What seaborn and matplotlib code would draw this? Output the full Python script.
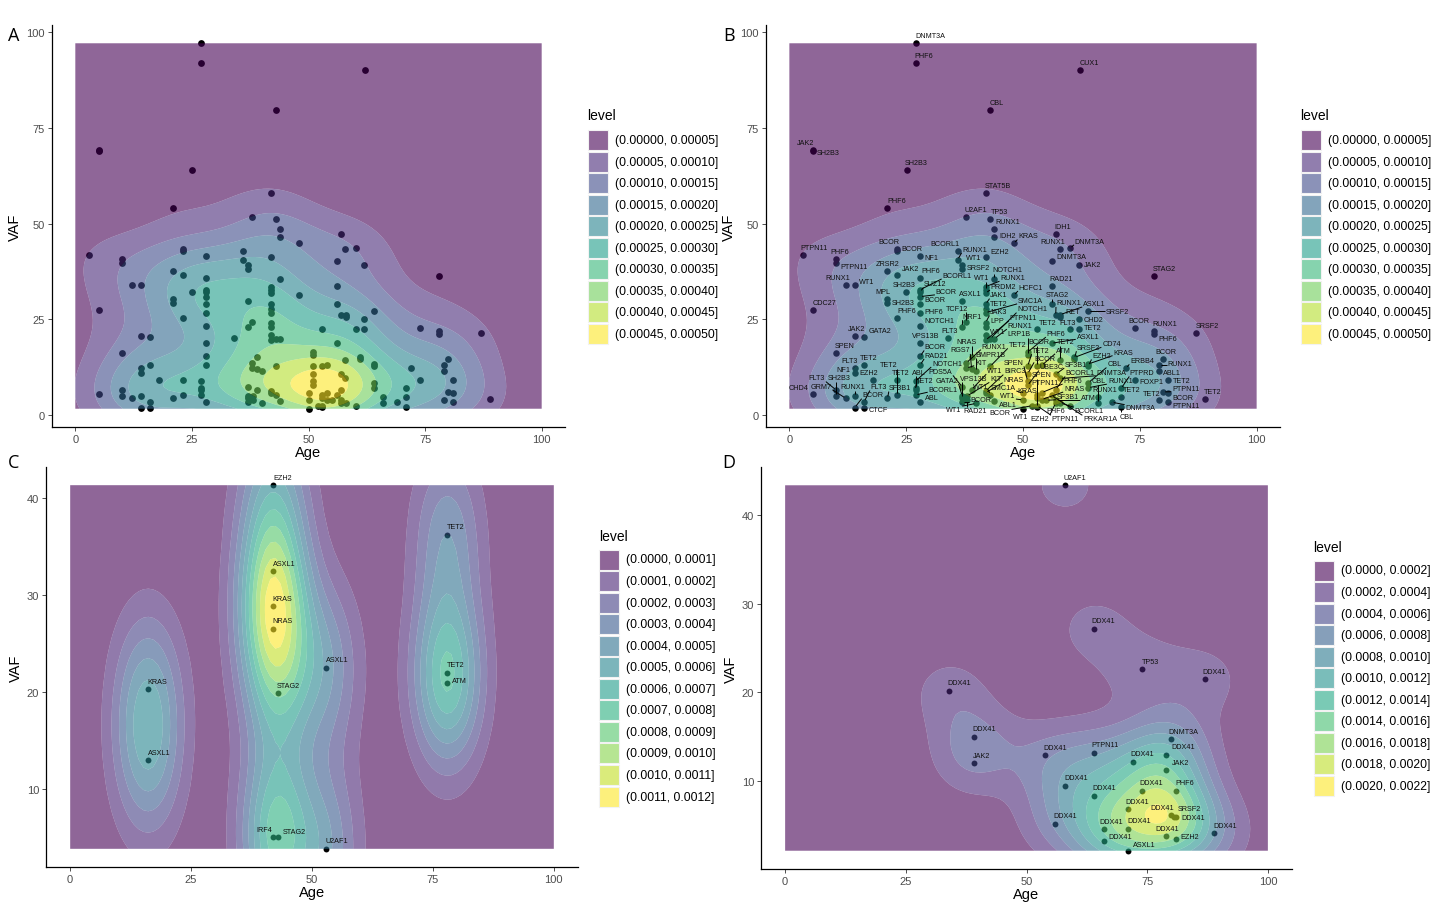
import numpy as np
import pandas as pd
import matplotlib
matplotlib.use("Agg")
import matplotlib.pyplot as plt
from matplotlib.patches import Rectangle
import seaborn as sns

# ------------------------------------------------------------------ data
ab_age = [27.0, 27.0, 62.1, 43.0, 5.0, 5.0, 25.1, 21.0, 42.0, 37.9,
          43.0, 43.9, 43.9, 48.0, 57.0, 57.9, 60.1, 62.0, 56.1, 78.0,
          3.0, 10.0, 10.0, 23.1, 23.1, 21.0, 23.1, 28.0, 36.0, 36.0,
          37.0, 37.0, 42.0, 28.0, 43.9, 12.1, 14.0, 28.0, 28.0, 28.0,
          28.0, 42.0, 42.0, 42.0, 48.0, 25.0, 21.0, 21.0, 56.1, 37.0,
          56.1, 42.0, 42.0, 42.0, 5.0, 28.0, 64.0, 57.0, 58.0, 58.0,
          37.9, 37.0, 42.0, 42.0, 28.0, 23.1, 62.0, 53.0, 60.1, 62.0,
          74.0, 78.0, 78.0, 87.0, 14.0, 16.0, 34.0, 42.0, 42.0, 43.0,
          43.9, 28.0, 56.1, 10.0, 51.0, 51.0, 28.0, 39.0, 61.0, 61.0,
          80.0, 57.9, 16.0, 28.0, 37.9, 64.0, 64.0, 79.0, 43.0, 51.0,
          53.0, 54.0, 14.0, 14.0, 37.9, 39.0, 40.0, 72.0, 79.0, 51.0,
          57.0, 57.9, 18.0, 23.1, 27.0, 74.0, 81.0, 64.0, 64.0, 51.0,
          51.0, 37.0, 27.0, 27.0, 39.0, 57.0, 71.0, 10.0, 5.0, 42.0,
          42.0, 43.0, 80.0, 81.0, 23.1, 27.0, 50.0, 54.0, 53.0, 56.1,
          37.0, 37.0, 37.0, 38.0, 38.0, 10.0, 14.0, 12.1, 21.0, 66.0,
          71.0, 50.0, 54.0, 55.0, 57.0, 53.0, 43.9, 28.0, 40.0, 57.0,
          58.0, 16.0, 66.0, 69.0, 79.0, 81.0, 89.0, 52.0, 53.0, 60.1,
          71.0, 53.0, 14.0, 16.0, 50.0]
ab_vaf = [97.1, 92.0, 90.1, 79.7, 69.2, 68.9, 64.0, 54.1, 57.9, 51.7,
          51.1, 48.5, 46.6, 44.8, 47.3, 43.4, 43.5, 39.1, 40.3, 36.3,
          41.9, 40.8, 39.8, 43.3, 42.9, 37.5, 36.6, 41.4, 42.8, 40.5,
          39.2, 38.0, 41.3, 35.7, 35.5, 34.0, 34.0, 32.7, 32.1, 30.9,
          29.0, 33.5, 32.6, 31.8, 31.2, 32.2, 30.2, 29.3, 33.7, 29.8,
          28.9, 28.9, 27.6, 26.7, 27.4, 26.5, 27.1, 26.0, 26.2, 25.7,
          24.3, 23.0, 24.1, 23.0, 23.3, 25.2, 25.1, 22.5, 22.5, 22.5,
          22.6, 22.0, 21.0, 21.5, 20.7, 20.4, 20.2, 20.9, 19.5, 19.9,
          19.9, 18.7, 18.7, 16.1, 16.4, 15.6, 15.3, 15.0, 15.0, 14.7,
          14.7, 14.4, 13.1, 13.0, 13.6, 13.3, 12.8, 13.0, 12.7, 12.7,
          12.7, 12.9, 12.2, 11.0, 12.2, 11.9, 11.4, 12.2, 11.4, 10.7,
          10.6, 9.5, 9.2, 9.0, 8.8, 9.0, 9.0, 8.4, 7.1, 8.8,
          7.7, 7.3, 7.0, 6.5, 6.6, 6.6, 6.9, 6.5, 5.5, 6.2,
          5.8, 5.2, 6.0, 5.8, 5.3, 5.2, 5.6, 5.8, 5.1, 5.1,
          4.9, 4.3, 3.4, 4.0, 4.9, 4.9, 4.8, 4.3, 4.3, 4.6,
          4.6, 3.9, 4.0, 3.8, 3.8, 4.5, 3.5, 3.4, 3.0, 3.1,
          3.1, 3.4, 3.1, 3.3, 3.8, 3.4, 4.2, 2.4, 2.4, 2.3,
          2.1, 2.1, 1.9, 1.7, 1.6]
ab_gene = ["DNMT3A", "PHF6", "CUX1", "CBL", "JAK2", "SH2B3", "SH2B3", "PHF6", "STAT5B", "U2AF1",
           "TP53", "RUNX1", "IDH2", "KRAS", "IDH1", "RUNX1", "DNMT3A", "JAK2", "DNMT3A", "STAG2",
           "PTPN11", "PHF6", "PTPN11", "BCOR", "BCOR", "ZRSR2", "JAK2", "NF1", "BCORL1", "RUNX1",
           "WT1", "SRSF2", "EZH2", "PHF6", "NOTCH1", "RUNX1", "WT1", "BCORL1", "SUZ12", "BCOR",
           "BCOR", "RUNX1", "WT1", "PRDM2", "HCFC1", "SH2B3", "MPL", "SH2B3", "RAD21", "ASXL1",
           "STAG2", "JAK1", "TET2", "SMC1A", "CDC27", "PHF6", "SRSF2", "RUNX1", "ASXL1", "RET",
           "TCF12", "NRF1", "JAK3", "LPP", "NOTCH1", "PHF6", "CHD2", "TET2", "FLT3", "TET2",
           "BCOR", "RUNX1", "PHF6", "SRSF2", "JAK2", "GATA2", "FLT3", "WT1", "PTPN11", "NOTCH1",
           "RUNX1", "VPS13B", "ASXL1", "SPEN", "PHF6", "LRP1B", "BCOR", "NRAS", "CD74", "SRSF2",
           "BCOR", "TET2", "TET2", "RAD21", "RUNX1", "KRAS", "EZH2", "RUNX1", "TET2", "TET2",
           "BCOR", "ATM", "FLT3", "NF1", "KIT", "RGS7", "BMPR1B", "ERBB4", "ABL1", "BCOR",
           "SF3B1", "DNMT3A", "EZH2", "TET2", "NOTCH1", "FOXP1", "TET2", "CBL", "RUNX1", "SPEN",
           "UBE3C", "PDS5A", "ABL", "TET2", "WT1", "BCORL1", "PTPRD", "FLT3", "CHD4", "BIRC3",
           "NRAS", "WT1", "PTPN11", "BCOR", "TET2", "BCORL1", "SMC1A", "PHF6", "PTPN11", "PRKAR1A",
           "GATA2", "VPS13B", "BCOR", "RAD21", "KIT", "SH2B3", "RUNX1", "GRM7", "SF3B1", "CBL",
           "TET2", "WT1", "NRAS", "SF3B1", "ATM", "KRAS", "ABL1", "ABL", "WT1", "EZH2",
           "BCORL1", "FLT3", "RUNX1", "DNMT3A", "TET2", "PTPN11", "TET2", "BCOR", "PTPN11", "PHF6",
           "CBL", "SPEN", "BCOR", "CTCF", "WT1"]

c_age = [42.0, 78.0, 42.0, 42.0, 42.0, 52.9, 78.0, 78.0, 16.1, 43.0, 16.1, 42.0, 43.0, 52.9]
c_vaf = [41.27, 36.2, 32.4, 28.85, 26.5, 22.5, 22.0, 20.95, 20.3, 19.9, 13.0, 5.07, 5.07, 3.9]
c_gene = ["EZH2", "TET2", "ASXL1", "KRAS", "NRAS", "ASXL1", "TET2", "ATM", "KRAS", "STAG2",
          "ASXL1", "IRF4", "STAG2", "U2AF1"]

d_age = [58.0, 64.0, 73.9, 86.9, 34.0, 39.1, 80.0, 39.1, 53.9, 64.0,
         79.0, 72.0, 79.0, 58.0, 73.9, 80.9, 64.0, 71.0, 80.0, 80.5,
         81.0, 55.9, 66.0, 71.0, 79.0, 80.9, 88.9, 66.0, 71.0]
d_vaf = [43.36, 27.2, 22.6, 21.5, 20.2, 15.0, 14.75, 12.0, 12.9, 13.2,
         13.0, 12.2, 11.3, 9.5, 8.9, 8.9, 8.34, 6.83, 6.15, 6.0,
         5.9, 5.2, 4.6, 4.64, 3.8, 3.43, 4.15, 3.25, 2.15]
d_gene = ["U2AF1", "DDX41", "TP53", "DDX41", "DDX41", "DDX41", "DNMT3A", "JAK2", "DDX41", "PTPN11",
          "DDX41", "DDX41", "JAK2", "DDX41", "DDX41", "PHF6", "DDX41", "DDX41", "DDX41", "SRSF2",
          "DDX41", "DDX41", "DDX41", "DDX41", "DDX41", "EZH2", "DDX41", "DDX41", "ASXL1"]

ab_breaks = [0.0, 0.00005, 0.00010, 0.00015, 0.00020, 0.00025, 0.00030, 0.00035, 0.00040, 0.00045, 0.00050]
c_breaks = [0.0, 0.0001, 0.0002, 0.0003, 0.0004, 0.0005, 0.0006, 0.0007, 0.0008, 0.0009, 0.0010, 0.0011, 0.0012]
d_breaks = [0.0, 0.0002, 0.0004, 0.0006, 0.0008, 0.0010, 0.0012, 0.0014, 0.0016, 0.0018, 0.0020, 0.0022]

x_ticks = [0, 25, 50, 75, 100]
ab_y_ticks = [0, 25, 50, 75, 100]
cd_y_ticks = [10, 20, 30, 40]
panel_letters = ["A", "B", "C", "D"]

# ------------------------------------------------------------------ style
sns.set_theme(style="ticks")
plt.rcParams["font.family"] = ["Liberation Sans", "DejaVu Sans"]

W, H = 1440, 904
fig = plt.figure(figsize=(W / 100, H / 100), dpi=100)
FILL_ALPHA = 0.6


def px_axes(l, r, t, b):
    return fig.add_axes([l / W, 1 - b / H, (r - l) / W, (b - t) / H])


def bandwidth_nrd(v):
    v = np.asarray(v, float)
    q75, q25 = np.percentile(v, [75, 25])
    h = (q75 - q25) / 1.34
    return 4 * 1.06 * min(np.sqrt(np.var(v, ddof=1)), h) * len(v) ** (-0.2)


def kde2d(x, y, xlim, ylim, n=100):
    x = np.asarray(x, float)
    y = np.asarray(y, float)
    hx = bandwidth_nrd(x) / 4
    hy = bandwidth_nrd(y) / 4
    gx = np.linspace(xlim[0], xlim[1], n)
    gy = np.linspace(ylim[0], ylim[1], n)
    kx = np.exp(-0.5 * ((gx[:, None] - x[None, :]) / hx) ** 2) / (np.sqrt(2 * np.pi) * hx)
    ky = np.exp(-0.5 * ((gy[:, None] - y[None, :]) / hy) ** 2) / (np.sqrt(2 * np.pi) * hy)
    z = kx @ ky.T / len(x)
    return gx, gy, z


def style_axes(ax, yticks):
    sns.despine(ax=ax)
    for s in ("left", "bottom"):
        ax.spines[s].set_linewidth(0.9)
        ax.spines[s].set_color("black")
    ax.set_xticks(x_ticks)
    ax.set_yticks(yticks)
    ax.tick_params(axis="both", length=3, width=0.6, color="#333333",
                   labelsize=8, labelcolor="#4D4D4D", pad=2)
    ax.set_xlabel("Age", fontsize=10.5, labelpad=1, color="black")
    ax.set_ylabel("VAF", fontsize=10.5, labelpad=3, color="black")
    ax.grid(False)
    ax.set_facecolor("white")


def density_panel(ax, age, vaf, breaks, yticks, psize):
    age = np.asarray(age, float)
    vaf = np.asarray(vaf, float)
    ylo, yhi = vaf.min(), vaf.max()
    rng = yhi - ylo
    ax.set_xlim(-5, 105)
    ax.set_ylim(ylo - 0.05 * rng, yhi + 0.05 * rng)
    df = pd.DataFrame({"Age": age, "VAF": vaf})
    sns.scatterplot(data=df, x="Age", y="VAF", color="black", s=psize,
                    linewidth=0, ax=ax, zorder=1, legend=False)
    gx, gy, z = kde2d(age, vaf, (0, 100), (ylo, yhi))
    z = np.clip(z, breaks[0] + 1e-12, breaks[-1] - 1e-12)
    nb = len(breaks) - 1
    cols = plt.cm.viridis(np.linspace(0, 1, nb))
    ax.contourf(gx, gy, z.T, levels=breaks, colors=cols, alpha=FILL_ALPHA,
                zorder=2, antialiased=True)
    style_axes(ax, yticks)
    return cols


def level_legend(breaks, cols, digits, x_px, title_y_px, key_top_px,
                 key=20.0, step=21.55):
    fig.text(x_px / W, 1 - title_y_px / H, "level", fontsize=10,
             ha="left", va="center", color="black")
    for i in range(len(breaks) - 1):
        top = key_top_px + i * step
        c = list(cols[i][:3]) + [FILL_ALPHA]
        fig.patches.append(Rectangle((x_px / W, 1 - (top + key) / H), key / W, key / H,
                                     transform=fig.transFigure, facecolor=c,
                                     edgecolor="#F2F2F2", linewidth=0.8))
        fig.text((x_px + 27.5) / W, 1 - (top + key / 2) / H,
                 f"({breaks[i]:.{digits}f}, {breaks[i + 1]:.{digits}f}]",
                 fontsize=8.8, ha="left", va="center", color="black")


def repel_labels(ax, xs, ys, names, size=5, r=3.5, pad=1.2, spring=0.04,
                 n_iter=500, seg_min=5.0, off=(2.0, 3.0), pt_gain=1.0, cleanup=300):
    rend = fig.canvas.get_renderer()
    P = ax.transData.transform(np.column_stack([xs, ys]))
    texts = [ax.text(x, y, s, fontsize=size, ha="center", va="center",
                     color="#111111", zorder=6)
             for x, y, s in zip(xs, ys, names)]
    ext = [t.get_window_extent(rend) for t in texts]
    w = np.array([e.width for e in ext])
    h = np.array([e.height for e in ext]) * 0.85
    bb = ax.get_window_extent(rend)
    n = len(xs)
    ang = np.arange(n) * 2.39996
    C = P + np.column_stack([w / 2 + off[0] + 0.6 * np.cos(ang),
                             h / 2 + r + off[1] + 0.6 * np.sin(ang)])
    eye = np.eye(n, dtype=bool)
    total = n_iter + cleanup
    for it in range(total):
        final = it >= n_iter
        dx = C[:, 0, None] - C[None, :, 0]
        dy = C[:, 1, None] - C[None, :, 1]
        ox = (w[:, None] + w[None, :]) / 2 + pad - np.abs(dx)
        oy = (h[:, None] + h[None, :]) / 2 + pad - np.abs(dy)
        ov = (ox > 0) & (oy > 0) & ~eye
        d = np.hypot(dx, dy) + 1e-9
        m = np.where(ov, np.minimum(ox, oy), 0.0)
        fx = (m * dx / d).sum(1)
        fy = (m * dy / d).sum(1)
        if final:
            # axis-wise separation of remaining overlaps
            sx = np.where(ov & (ox < oy), np.sign(dx + 1e-6) * ox, 0.0).sum(1)
            sy = np.where(ov & (ox >= oy), np.sign(dy + 1e-6) * oy, 0.0).sum(1)
            fx += sx
            fy += sy
        qx = C[:, 0, None] - P[None, :, 0]
        qy = C[:, 1, None] - P[None, :, 1]
        pox = w[:, None] / 2 + r - np.abs(qx)
        poy = h[:, None] / 2 + r - np.abs(qy)
        pv = (pox > 0) & (poy > 0)
        qd = np.hypot(qx, qy) + 1e-9
        pm = np.where(pv, np.minimum(pox, poy), 0.0) * (pt_gain if not final else 0.3)
        fx += (pm * qx / qd).sum(1)
        fy += (pm * qy / qd).sum(1)
        if not final:
            fx -= spring * (C[:, 0] - P[:, 0])
            fy -= spring * (C[:, 1] - P[:, 1])
        step = 0.45 if it < n_iter * 0.8 else 0.25
        mv = np.column_stack([fx, fy]) * step
        nm = np.hypot(mv[:, 0], mv[:, 1])
        mv *= np.minimum(1.0, 3.0 / (nm + 1e-9))[:, None]
        C += mv
        C[:, 0] = np.clip(C[:, 0], bb.x0 + w / 2 + 1, bb.x1 - w / 2 - 1)
        C[:, 1] = np.clip(C[:, 1], bb.y0 + h / 2 + 1, bb.y1 - h / 2 - 1)
    inv = ax.transData.inverted()
    for t, c in zip(texts, inv.transform(C)):
        t.set_position((c[0], c[1]))
    for i in range(n):
        bx = np.clip(P[i, 0], C[i, 0] - w[i] / 2, C[i, 0] + w[i] / 2)
        by = np.clip(P[i, 1], C[i, 1] - h[i] / 2, C[i, 1] + h[i] / 2)
        dist = np.hypot(bx - P[i, 0], by - P[i, 1])
        if dist > seg_min:
            ux, uy = (bx - P[i, 0]) / dist, (by - P[i, 1]) / dist
            p0 = inv.transform([[P[i, 0] + ux * 2.0, P[i, 1] + uy * 2.0]])[0]
            p1 = inv.transform([[bx - ux * 1.0, by - uy * 1.0]])[0]
            ax.plot([p0[0], p1[0]], [p0[1], p1[1]], color="black", lw=0.7,
                    zorder=5, solid_capstyle="butt")


# ------------------------------------------------------------------ panels
axA = px_axes(52, 565, 26, 428)
colsA = density_panel(axA, ab_age, ab_vaf, ab_breaks, ab_y_ticks, 24)
level_legend(ab_breaks, colsA, 5, 587.5, 116, 131)

axB = px_axes(766, 1280, 26, 428)
colsB = density_panel(axB, ab_age, ab_vaf, ab_breaks, ab_y_ticks, 22)
level_legend(ab_breaks, colsB, 5, 1300.5, 116, 131)

axC = px_axes(46, 578, 468, 868)
colsC = density_panel(axC, c_age, c_vaf, c_breaks, cd_y_ticks, 18)
level_legend(c_breaks, colsC, 4, 599, 537, 550.5)

axD = px_axes(761, 1292, 468, 870)
colsD = density_panel(axD, d_age, d_vaf, d_breaks, cd_y_ticks, 18)
level_legend(d_breaks, colsD, 4, 1313.5, 548, 561.5)

fig.canvas.draw()
repel_labels(axB, ab_age, ab_vaf, ab_gene, size=5.2, r=4.5, pad=2.4, spring=0.006,
             n_iter=2000, seg_min=6.0, off=(0.0, 0.5), pt_gain=1.5, cleanup=400)
repel_labels(axC, c_age, c_vaf, c_gene, size=5.2, r=5.0, pad=2.0, spring=0.05,
             n_iter=300, seg_min=12.0, off=(3.0, 3.0), cleanup=100)
repel_labels(axD, d_age, d_vaf, d_gene, size=5.2, r=5.0, pad=2.0, spring=0.05,
             n_iter=400, seg_min=12.0, off=(2.0, 3.0), cleanup=100)

for letter, (xp, yp) in zip(panel_letters, [(14, 36), (729, 36), (14, 463), (729, 463)]):
    fig.text(xp / W, 1 - yp / H, letter, fontsize=13, ha="center", va="center",
             family=["Open Sans", "DejaVu Sans"], color="black")

fig.savefig("out.png", dpi=100, facecolor="white")
